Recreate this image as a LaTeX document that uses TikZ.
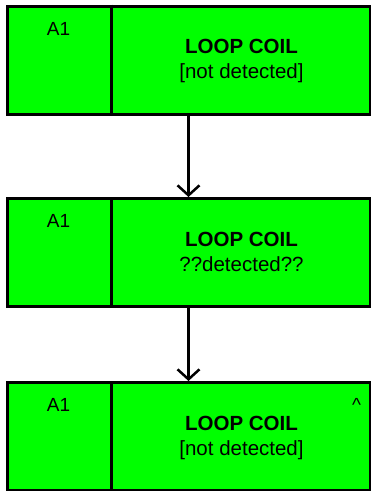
\documentclass[tikz,border=0pt]{standalone}
\usepackage{fontspec}
\setmainfont{Liberation Sans}
\usetikzlibrary{arrows.meta}
\definecolor{coilgreen}{RGB}{0,255,0}

\begin{document}
\begin{tikzpicture}[x=1pt, y=-1pt, line width=3pt,
  coil box/.style={draw, fill=coilgreen, minimum width=363pt, minimum height=108pt, inner sep=0pt},
  id text/.style={anchor=base, inner sep=0pt, font=\fontsize{19}{23}\selectfont},
  coil text/.style={anchor=base, align=center, inner sep=0pt, font=\fontsize{20.5}{25}\selectfont},
  flow/.style={line width=2.5pt, -{Straight Barb[length=10pt,width=22pt]}}]
\useasboundingbox (0,0) rectangle (371,491);
\node [coil box](b1) at (188.5,60) {};
\node [coil box](b2) at (188.5,252.5) {};
\node [coil box](b3) at (188.5,436.5) {};
% divider between id cell and state cell
\foreach \b in {b1,b2,b3}
  \draw ([xshift=106pt]\b.north west) -- ([xshift=106pt]\b.south west);
\begin{scope}[every node/.style={id text}]
\node (id1) at ([xshift=53pt,yshift=-30.5pt]b1.north west) {A1};
\node (id2) at ([xshift=53pt,yshift=-30.5pt]b2.north west) {A1};
\node (id3) at ([xshift=53pt,yshift=-30.5pt]b3.north west) {A1};
\node (mark3) at ([xshift=-15pt,yshift=-30.5pt]b3.north east) {\textasciicircum};
\end{scope}
% base of a two-line node sits on its last line
\begin{scope}[every node/.style={coil text}]
\node (s1) at ([xshift=53pt,yshift=-74pt]b1.north) {\textbf{LOOP COIL}\\{[not detected]}};
\node (s2) at ([xshift=53pt,yshift=-74pt]b2.north) {\textbf{LOOP COIL}\\{??detected??}};
\node (s3) at ([xshift=53pt,yshift=-74pt]b3.north) {\textbf{LOOP COIL}\\{[not detected]}};
\end{scope}
\path 
	(b1) edge [flow] (b2)
	(b2) edge [flow] (b3)
	;
\end{tikzpicture}
\end{document}
